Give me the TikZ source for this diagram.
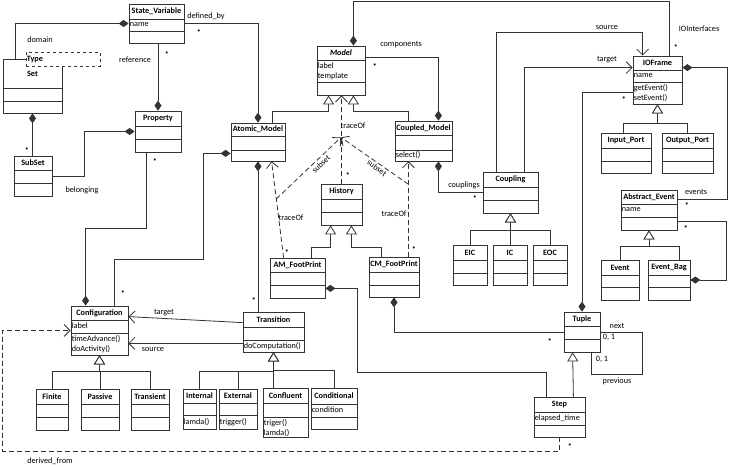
\documentclass[tikz,border=0pt]{standalone}
\usepackage{fontspec}
\setmainfont{Carlito}
\usetikzlibrary{arrows.meta,calc,fit}

\begin{document}
\begin{tikzpicture}[x=1pt, y=-1pt,
		font=\fontsize{8.2}{9.8}\selectfont,
		umlline/.style={draw=black!80, line width=0.8pt},
		classbox/.style={umlline, inner sep=0pt},
		title/.style={font=\fontsize{8.2}{9.8}\selectfont\bfseries, inner sep=0pt},
		attr/.style={anchor=west, inner sep=1pt, align=left},
		comp/.style={umlline, {Diamond[length=10pt,width=7pt]}-},
		gen/.style={umlline, -{Triangle[open,length=9pt,width=11pt,fill=white]}},
		assoc/.style={umlline, -{Straight Barb[length=6pt,width=12pt]}},
		dep/.style={assoc, dash pattern=on 5pt off 3pt},
		mult/.style={inner sep=0pt, font=\fontsize{8.2}{9.8}\selectfont\bfseries}]

		\useasboundingbox (0,0) rectangle (731,466);

		% --- Classes ---
		\foreach \n/\xa/\ya/\xb/\yb/\da/\db/\t in {
			sv/129/4/184/43/19/31/State\_Variable,
			set/3/59/62/113/88/101/Set,
			prop/135/111/181/152/126/139/Property,
			sub/14/156/52/196/170/183/SubSet,
			am/231/123/285/161/136/150/Atomic\_Model,
			model/317/46/365/95/60/82/{\itshape Model},
			cm/395/121/452/161/135/150/Coupled\_Model,
			hist/321/184/362/225/199/212/History,
			amfp/270/258/325/298/272/285/AM\_FootPrint,
			cmfp/369/257/419/297/272/285/CM\_FootPrint,
			coupling/483/172/538/213/187/200/Coupling,
			eic/453/245/487/285/260/273/EIC,
			ic/493/245/527/285/260/273/IC,
			eoc/533/245/567/285/260/273/EOC,
			io/633/56/682/104/70/82/IOFrame,
			inp/601/133/651/173/148/161/Input\_Port,
			outp/662/133/713/173/148/161/Output\_Port,
			ae/621/190/677/230/204/217/Abstract\_Event,
			ev/601/260/639/300/275/287/Event,
			evb/648/260/690/300/275/287/Event\_Bag,
			cfg/71/306/128/355/320/333/Configuration,
			tr/243/312/304/352/327/340/Transition,
			fin/36/389/68/430/404/417/Finite,
			pas/81/389/119/430/404/417/Passive,
			tra/131/389/169/430/404/417/Transient,
			int/183/389/216/429/403/415/Internal,
			ext/219/389/257/429/403/415/External,
			con/263/388/308/437/403/417/Confluent,
			cond/311/388/357/429/404/417/Conditional,
			tup/564/312/600/352/326/339/Tuple,
			step/534/397/585/437/412/425/Step} {
			\node[classbox, fit={(\xa,\ya) (\xb,\yb)}] (\n) {};
			\draw[umlline] (\xa,\da) -- (\xb,\da) (\xa,\db) -- (\xb,\db);
			\node[title] at ({(\xa+\xb)/2},{(\ya+\da)/2}) {\t};
		}

		% Template parameter of Set
		\node[classbox, dashed, fill=white, fit={(26,52) (100,66)}] (type) {};
		\node[attr, font=\fontsize{8.2}{9.8}\selectfont\bfseries] at (type.west) {Type};

		% --- Attributes and operations ---
		\foreach \n/\y/\txt in {sv/25/{name}, model/71/{label\\template}, io/76/{name},
			io/93/{getEvent()\\setEvent()}, ae/210/{name}, cm/155/{select()},
			cfg/326/{label}, cfg/344/{timeAdvance()\\doActivity()}, tr/346/{doComputation()},
			int/422/{lamda()}, ext/422/{trigger()}, con/428/{triger()\\lamda()},
			cond/410/{condition}, step/418/{elapsed\_time}} {
			\node[attr] at (\n.west |- 0,\y) {\txt};
		}

		% --- Compositions ---
		\draw[comp] (sv.west) -| ($(set.north west)+(13,0)$);
		\draw[comp] (prop.north) -- (prop.north |- sv.south);
		\draw[comp] (prop.west) -| ($(sub.east)+(32,0)$) -- (sub.east);
		\draw[comp] (set.south) -- (set.south |- sub.north);
		\draw[comp] (am.north) |- (sv.east);
		\draw[comp] ($(cfg.north west)+(15,0)$) -- ++(0,-77) -| ($(prop.south west)+(12,0)$);
		\draw[comp] ($(am.south west)+(0,-8)$) -- ++(-27,0) -- ++(0,106) -| ($(cfg.north east)+(-14,0)$);
		\draw[comp] ($(model.north east)+(-12,0)$) -- ++(0,-44) -| ($(io.north east)+(-13,0)$);
		\draw[comp] ($(cm.north east)+(-14,0)$) |- ($(model.north east)+(0,12)$);
		\draw[comp] ($(cm.south east)+(-14,0)$) |- (coupling.west);
		\draw[comp] (am.south) -- (am.south |- tr.north);
		\draw[comp] (tup.north) |- ($(io.south west)+(0,-12)$);
		\draw[comp] ($(io.north east)+(0,12)$) -- ++(45,0) |- ($(ae.north east)+(0,10)$);
		\draw[comp] (evb.east) -- ++(36,0) |- ($(ae.south east)+(0,-9)$);
		\draw[comp] ($(amfp.south east)+(0,-10)$) -- ++(32,0) -- ++(0,84) -| ($(step.north west)+(13,0)$);
		\draw[comp] (cmfp.south) |- (tup.west);

		% --- Generalizations ---
		\draw[gen] ($(am.north east)+(-13,0)$) -- ++(0,-11) -| ($(model.south west)+(12,0)$);
		\draw[gen] ($(cm.north west)+(14,0)$) -- ++(0,-9) -| ($(model.south east)+(-12,0)$);
		\draw[gen] ($(amfp.north east)+(-14,0)$) -- ++(0,-10) -| ($(hist.south west)+(10,0)$);
		\draw[gen] ($(cmfp.north west)+(13,0)$) -- ++(0,-9) -| ($(hist.south east)+(-11,0)$);
		\foreach \c in {fin,pas,tra}
			\draw[gen] (\c.north) -- ++(0,-17) -| (cfg.south);
		\foreach \c in {int,ext,cond}
			\draw[gen] (\c.north) -- ++(0,-17) -| (tr.south);
		\draw[gen] (tr.south |- con.north) -- (tr.south);
		\foreach \c in {eic,ic,eoc}
			\draw[gen] (\c.north) -- ++(0,-14) -| (coupling.south);
		\draw[gen] ($(inp.north west)+(23,0)$) -- ++(0,-9) -| (io.south);
		\draw[gen] (outp.north) -- ++(0,-9) -| (io.south);
		\draw[gen] (ev.north) -- ++(0,-13) -| (ae.south);
		\draw[gen] ($(evb.north east)+(-11,0)$) -- ++(0,-13) -| (ae.south);
		\draw[gen] ($(step.north east)+(-12,0)$) -- ($(tup.south west)+(9,0)$);

		% --- Associations ---
		\draw[assoc] ($(tr.north west)+(0,11)$) -- ($(cfg.north east)+(0,11)$);
		\draw[assoc] ($(tr.south west)+(0,-9)$) -- ($(cfg.south east)+(0,-12)$);
		\draw[assoc] ($(coupling.north west)+(14,0)$) -- ++(0,-139) -| ($(io.north west)+(10,0)$);
		\draw[assoc] ($(coupling.north east)+(-14,0)$) |- ($(io.north west)+(0,12)$);
		\draw[umlline] (tup.east) -- ++(42,0) |- ($(tup.south east)+(-9,22)$) -- ($(tup.south east)+(-9,0)$);

		% --- Dependencies (dashed) ---
		\coordinate (meet) at ($(model.south)+(0,42)$);
		\draw[dep] (hist.north) -- (hist.north |- model.south);
		\draw[dep] ($(amfp.north west)+(14,0)$) -- coordinate[pos=0.61] (amsub) ($(am.south west)+(41,0)$);
		\draw[dep] ($(cmfp.north east)+(-11,0)$) -- coordinate[pos=0.76] (cmsub) ($(cm.south east)+(-44,0)$);
		\draw[dep] (amsub) -- (meet);
		\draw[dep] (cmsub) -- (meet);
		\draw[dep] (step.south) -- ++(0,14) -| ($(cfg.west)+(-68,0)$) -- (cfg.west);

		% --- Multiplicities ---
		\foreach \x/\y in {199/33, 167/55, 27/151, 155/162, 123/294, 375/67, 676/48, 348/176,
			287/253, 414/250, 254/301, 475/199, 624/100, 687/206, 686/229, 550/342, 570/447}
			\node[mult] at (\x,\y) {*};

		% --- Role labels ---
		\foreach \x/\y/\txt in {40/40/domain, 206/16/defined\_by, 135/60/reference, 82/190/belonging,
			401/45/components, 699/29/IOInterfaces, 607/28/source, 607/60/target,
			353/126/traceOf, 291/218/traceOf, 394/214/traceOf, 464/185/couplings,
			164/313/target, 153/350/source, 696/192/events, 617/326/next,
			609/337/{0, 1}, 602/359/{0, 1}, 617/381/previous, 50/461/derived\_from}
			\node at (\x,\y) {\txt};
		\node[rotate=44] at (321,164) {subset};
		\node[rotate=-36] at (377,168) {subset};

	\end{tikzpicture}
\end{document}
